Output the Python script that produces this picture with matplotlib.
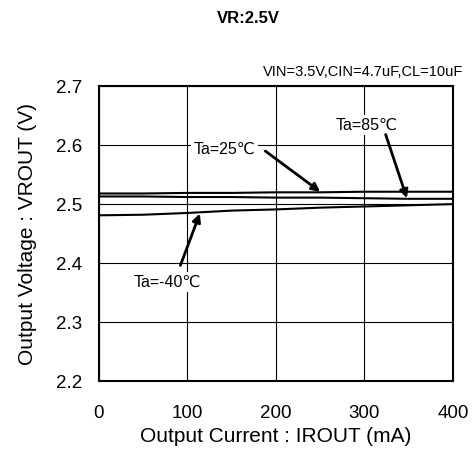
import matplotlib
matplotlib.use('Agg')
import matplotlib.pyplot as plt

plt.rcParams['font.family'] = ['Liberation Sans', 'DejaVu Sans']

# data
iout = [0, 50, 100, 150, 200, 250, 300, 350, 400]
v_25 = [2.518, 2.518, 2.519, 2.519, 2.520, 2.520, 2.521, 2.521, 2.521]
v_85 = [2.513, 2.513, 2.512, 2.512, 2.511, 2.511, 2.510, 2.509, 2.509]
v_m40 = [2.481, 2.482, 2.485, 2.489, 2.491, 2.494, 2.496, 2.498, 2.500]

fig = plt.figure(figsize=(4.77, 4.55), dpi=100)
ax = fig.add_axes([0.2075, 0.1626, 0.742, 0.648])

for v in (v_25, v_85, v_m40):
    ax.plot(iout, v, color='black', lw=1.5, zorder=3)

ax.set_xlim(0, 400)
ax.set_ylim(2.2, 2.7)
ax.set_xticks([0, 100, 200, 300, 400])
ax.set_yticks([2.2, 2.3, 2.4, 2.5, 2.6, 2.7])
ax.set_yticklabels(['2.2', '2.3', '2.4', '2.5', '2.6', '2.7'])
ax.grid(True, color='black', lw=0.8)
ax.tick_params(length=0, labelsize=13.5)
ax.tick_params(axis='x', pad=17)
ax.tick_params(axis='y', pad=12)
for s in ax.spines.values():
    s.set_linewidth(1.5)

ax.set_xlabel('Output Current : IROUT (mA)', fontsize=15, labelpad=4)
ax.set_ylabel('Output Voltage : VROUT (V)', fontsize=15, labelpad=14)

fig.text(0.52, 0.96, 'VR:2.5V', ha='center', va='center', fontsize=12, fontweight='bold')
fig.text(463 / 477, 1 - 72 / 455, 'VIN=3.5V,CIN=4.7uF,CL=10uF',
         ha='right', va='center', fontsize=10.5)

arrow = dict(arrowstyle='-|>', lw=2, color='black', mutation_scale=12, shrinkA=0, shrinkB=0)

ax.text(142, 2.593, 'Ta=25℃', ha='center', va='center', fontsize=11.5,
        bbox=dict(facecolor='white', edgecolor='none', pad=2))
ax.annotate('', xy=(250, 2.521), xytext=(188, 2.59), arrowprops=arrow)

ax.text(303, 2.634, 'Ta=85℃', ha='center', va='center', fontsize=11.5,
        bbox=dict(facecolor='white', edgecolor='none', pad=2))
ax.annotate('', xy=(348, 2.510), xytext=(324, 2.618), arrowprops=arrow)

ax.text(77, 2.368, 'Ta=-40℃', ha='center', va='center', fontsize=11.5,
        bbox=dict(facecolor='white', edgecolor='none', pad=2))
ax.annotate('', xy=(114, 2.484), xytext=(92, 2.396), arrowprops=arrow)

fig.savefig('out.png', dpi=100)
